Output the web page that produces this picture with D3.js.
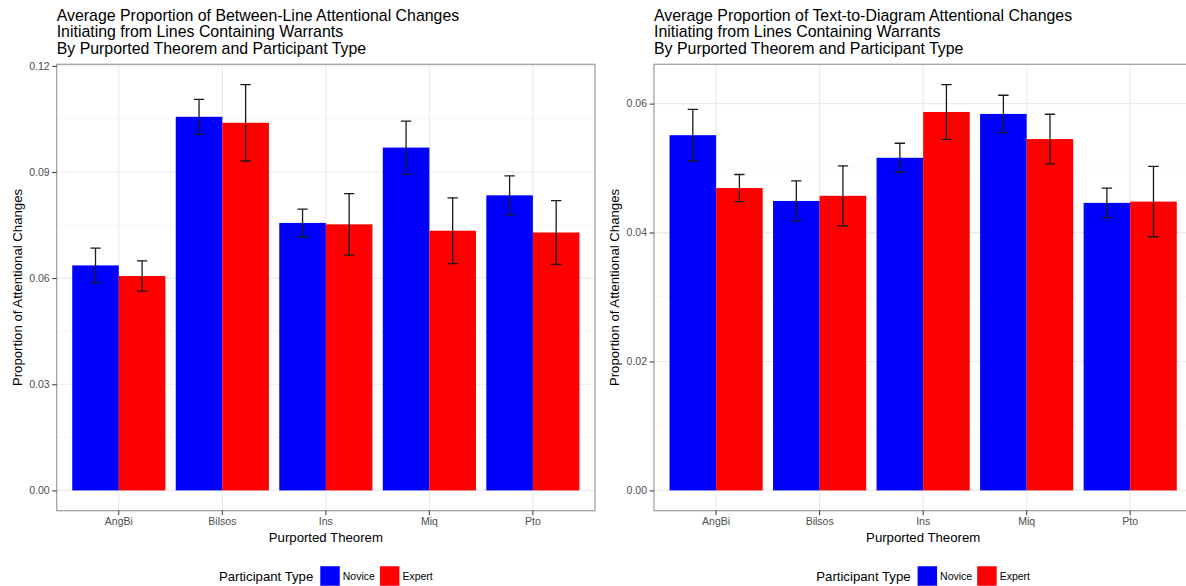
<!DOCTYPE html>
<html>
<head>
<meta charset="utf-8">
<script src="https://cdn.jsdelivr.net/npm/d3@7"></script>
<style>
  html, body { margin: 0; padding: 0; background: #fff; }
  svg { display: block; font-family: "Liberation Sans", Arial, sans-serif; }
</style>
</head>
<body>
<svg id="chart" width="1186" height="586"></svg>
<script>
// Purported theorems shown on the x axis
const categories = ["AngBi", "Bilsos", "Ins", "Miq", "Pto"];
const groups = ["Novice", "Expert"];
const groupColors = ["#0000FF", "#FF0000"];

// Between-line attentional changes (left chart): means and standard errors
const betweenNovice   = [0.0636, 0.1056, 0.0756, 0.0969, 0.0834];
const betweenExpert   = [0.0606, 0.1039, 0.0752, 0.0734, 0.0729];
const betweenNoviceSE = [0.0049, 0.0049, 0.0039, 0.0075, 0.0055];
const betweenExpertSE = [0.0043, 0.0108, 0.0087, 0.0093, 0.0090];
const betweenTicks    = [0.00, 0.03, 0.06, 0.09, 0.12];
const betweenMinor    = [0.015, 0.045, 0.075, 0.105];

// Text-to-diagram attentional changes (right chart): means and standard errors
const diagramNovice   = [0.0551, 0.0449, 0.0516, 0.0584, 0.0446];
const diagramExpert   = [0.0469, 0.0457, 0.0587, 0.0545, 0.0448];
const diagramNoviceSE = [0.0040, 0.0031, 0.00225, 0.0029, 0.0023];
const diagramExpertSE = [0.0021, 0.00465, 0.00425, 0.00385, 0.00545];
const diagramTicks    = [0.00, 0.02, 0.04, 0.06];
const diagramMinor    = [0.01, 0.03, 0.05];

const betweenTitle = [
  "Average Proportion of Between-Line Attentional Changes",
  "Initiating from Lines Containing Warrants",
  "By Purported Theorem and Participant Type"
];
const diagramTitle = [
  "Average Proportion of Text-to-Diagram Attentional Changes",
  "Initiating from Lines Containing Warrants",
  "By Purported Theorem and Participant Type"
];

const svg = d3.select("#chart");
const FONT_TITLE = 15.9, FONT_AXIS = 13.2, FONT_TICK = 10.5;
const GREY_TEXT = "#4D4D4D";

function drawPanel(opts) {
  const { left, top, width, height, novice, expert, noviceSE, expertSE,
          ticks, minor, title, fmt } = opts;
  const g = svg.append("g");
  const bottom = top + height;

  // rows for each bar
  const rows = [];
  categories.forEach((c, i) => {
    rows.push({ cat: c, grp: groups[0], v: novice[i], se: noviceSE[i] });
    rows.push({ cat: c, grp: groups[1], v: expert[i], se: expertSE[i] });
  });

  // y domain with 5% expansion on both sides of [0, max(mean + se)]
  const maxTop = d3.max(rows, d => d.v + d.se);
  const y = d3.scaleLinear()
    .domain([-0.05 * maxTop, 1.05 * maxTop])
    .range([bottom, top]);

  // discrete x with 0.6-unit padding each side
  const x = d3.scaleBand().domain(categories)
    .range([left, left + width]).paddingInner(0).paddingOuter(0.1);
  const step = x.step();
  const dodge = d3.scaleBand().domain(groups).range([-0.45 * step, 0.45 * step]);
  const color = d3.scaleOrdinal().domain(groups).range(groupColors);
  const cx = c => x(c) + x.bandwidth() / 2;

  const clipId = "clip" + Math.round(left);
  svg.append("clipPath").attr("id", clipId)
    .append("rect").attr("x", left).attr("y", top).attr("width", width).attr("height", height);

  const panel = g.append("g").attr("clip-path", `url(#${clipId})`);
  panel.append("rect").attr("x", left).attr("y", top)
    .attr("width", width).attr("height", height).attr("fill", "#fff");

  // grid lines
  panel.selectAll(".minor").data(minor).join("line")
    .attr("x1", left).attr("x2", left + width)
    .attr("y1", d => y(d)).attr("y2", d => y(d))
    .attr("stroke", "#F2F2F2").attr("stroke-width", 0.7);
  panel.selectAll(".major").data(ticks).join("line")
    .attr("x1", left).attr("x2", left + width)
    .attr("y1", d => y(d)).attr("y2", d => y(d))
    .attr("stroke", "#EBEBEB").attr("stroke-width", 1.2);
  panel.selectAll(".vgrid").data(categories).join("line")
    .attr("x1", d => cx(d)).attr("x2", d => cx(d))
    .attr("y1", top).attr("y2", bottom)
    .attr("stroke", "#EBEBEB").attr("stroke-width", 1.2);

  // bars
  panel.selectAll(".bar").data(rows).join("rect")
    .attr("x", d => cx(d.cat) + dodge(d.grp))
    .attr("width", dodge.bandwidth())
    .attr("y", d => y(d.v))
    .attr("height", d => y(0) - y(d.v))
    .attr("fill", d => color(d.grp));

  // error bars
  const capHalf = 0.05 * step;
  const eb = panel.selectAll(".eb").data(rows).join("g")
    .attr("stroke", "#1a1a1a").attr("stroke-width", 1.3).attr("fill", "none");
  const ex = d => cx(d.cat) + dodge(d.grp) + dodge.bandwidth() / 2;
  eb.append("line").attr("x1", ex).attr("x2", ex)
    .attr("y1", d => y(d.v + d.se)).attr("y2", d => y(d.v - d.se));
  eb.append("line").attr("x1", d => ex(d) - capHalf).attr("x2", d => ex(d) + capHalf)
    .attr("y1", d => y(d.v + d.se)).attr("y2", d => y(d.v + d.se));
  eb.append("line").attr("x1", d => ex(d) - capHalf).attr("x2", d => ex(d) + capHalf)
    .attr("y1", d => y(d.v - d.se)).attr("y2", d => y(d.v - d.se));

  // panel border
  g.append("rect").attr("x", left).attr("y", top)
    .attr("width", width).attr("height", height)
    .attr("fill", "none").attr("stroke", "#A3A3A3").attr("stroke-width", 1.3);

  // y axis
  const yAxis = d3.axisLeft(y).tickValues(ticks).tickFormat(fmt)
    .tickSize(4.5).tickPadding(2.5);
  const ya = g.append("g").attr("transform", `translate(${left},0)`).call(yAxis);
  ya.select(".domain").remove();
  ya.selectAll("line").attr("stroke", "#333333").attr("stroke-width", 1);
  ya.selectAll("text").attr("fill", GREY_TEXT).attr("font-size", FONT_TICK)
    .attr("font-family", "Liberation Sans, Arial, sans-serif");

  // x axis
  const xAxis = d3.axisBottom(x).tickSize(4.5).tickPadding(2.5);
  const xa = g.append("g").attr("transform", `translate(0,${bottom})`).call(xAxis);
  xa.select(".domain").remove();
  xa.selectAll("line").attr("stroke", "#333333").attr("stroke-width", 1);
  xa.selectAll("text").attr("fill", GREY_TEXT).attr("font-size", FONT_TICK)
    .attr("font-family", "Liberation Sans, Arial, sans-serif");

  // axis titles
  g.append("text").attr("x", left + width / 2).attr("y", bottom + 31)
    .attr("text-anchor", "middle").attr("font-size", FONT_AXIS).attr("fill", "#000")
    .text("Purported Theorem");
  g.append("text")
    .attr("transform", `translate(${left - 35},${top + height / 2}) rotate(-90)`)
    .attr("text-anchor", "middle").attr("font-size", FONT_AXIS).attr("fill", "#000")
    .text("Proportion of Attentional Changes");

  // title
  const t = g.append("text").attr("font-size", FONT_TITLE).attr("fill", "#000");
  title.forEach((line, i) => {
    t.append("tspan").attr("x", left).attr("y", 20.5 + i * 16.5).text(line);
  });

  // legend centred under the panel
  const leg = g.append("g");
  const legY = 576;
  const keySize = 19.5;
  const parts = [];
  const lt = leg.append("text").attr("font-size", FONT_AXIS).attr("y", legY + 4.6)
    .text("Participant Type");
  parts.push({ node: lt, w: lt.node().getComputedTextLength(), gapAfter: 7 });
  groups.forEach((grp, i) => {
    const r = leg.append("rect").attr("width", keySize).attr("height", keySize)
      .attr("y", legY - keySize / 2).attr("fill", color(grp));
    parts.push({ node: r, w: keySize, gapAfter: 3 });
    const tx = leg.append("text").attr("font-size", FONT_TICK).attr("y", legY + 3.7)
      .attr("fill", "#000").text(grp);
    parts.push({ node: tx, w: tx.node().getComputedTextLength(), gapAfter: i === 0 ? 5 : 0 });
  });
  const total = d3.sum(parts, p => p.w + p.gapAfter);
  let px = left + width / 2 - total / 2;
  parts.forEach(p => {
    p.node.attr("x", px);
    px += p.w + p.gapAfter;
  });
}

const fmt2 = d3.format(".2f");
const panelTop = 64.3, panelHeight = 446.4, panelWidth = 538.3;

drawPanel({
  left: 56.7, top: panelTop, width: panelWidth, height: panelHeight,
  novice: betweenNovice, expert: betweenExpert,
  noviceSE: betweenNoviceSE, expertSE: betweenExpertSE,
  ticks: betweenTicks, minor: betweenMinor, title: betweenTitle, fmt: fmt2
});

drawPanel({
  left: 654, top: panelTop, width: panelWidth, height: panelHeight,
  novice: diagramNovice, expert: diagramExpert,
  noviceSE: diagramNoviceSE, expertSE: diagramExpertSE,
  ticks: diagramTicks, minor: diagramMinor, title: diagramTitle, fmt: fmt2
});
</script>
</body>
</html>
